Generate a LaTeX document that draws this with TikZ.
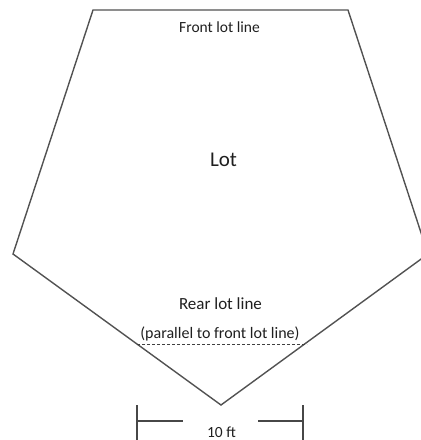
\documentclass[tikz,border=0pt]{standalone}
\usepackage{fontspec}
\setmainfont{Carlito}
\usetikzlibrary{calc,positioning}
\tikzset{
	x=1pt,y=-1pt,semithick,
	lotline/.style={draw=black!68, line width=1.4pt, line join=miter},
	dimline/.style={draw=black!72, line width=1.1pt},
	rearline/.style={draw=black!75, line width=0.8pt, dash pattern=on 3pt off 2pt},
	lbl/.style={inner sep=0pt, anchor=base, text=black!88, font=\fontsize{15.5}{18}\selectfont},
	biglbl/.style={lbl, font=\fontsize{21}{24}\selectfont}
}

\begin{document}
\begin{tikzpicture}
    \useasboundingbox (0,0) rectangle (421,440);
    % corners of the lot
    \coordinate (tl) at (93,10);
    \coordinate (tr) at (348,10);
    \coordinate (r) at (428,254);
    \coordinate (b) at (221,405);
    \coordinate (l) at (13,254);
    \draw[lotline] (tl) -- (tr) -- (r) -- (b) -- (l) -- cycle;

    \node[lbl] (front) at (219.5,32) {Front lot line};
    \node[biglbl] (lot) at (223.5,166) {Lot};
    \node[lbl, font=\fontsize{17}{20}\selectfont] (rear) at (220.5,309) {Rear lot line};
    \node[lbl, font=\fontsize{16}{18}\selectfont] (par) at (220,338) {(parallel to front lot line)};

    % rear lot line, dashed
    \coordinate (ra) at (137,344);
    \coordinate (rb) at (307,344);
    \draw[rearline] (ra) -- (rb);

    % 10 ft dimension
    \node[lbl] (ft) at (221.5,437) {10 ft};
    \coordinate (dl) at (137,421);
    \coordinate (dr) at (303,421);
    \coordinate (dli) at (183,421);
    \coordinate (dri) at (258,421);
    \draw[dimline] ($(dl)+(0,-16)$) -- ($(dl)+(0,19)$);
    \draw[dimline] ($(dr)+(0,-16)$) -- ($(dr)+(0,19)$);
    \draw[dimline] (dl) -- (dli);
    \draw[dimline] (dri) -- (dr);
\end{tikzpicture}
\end{document}
